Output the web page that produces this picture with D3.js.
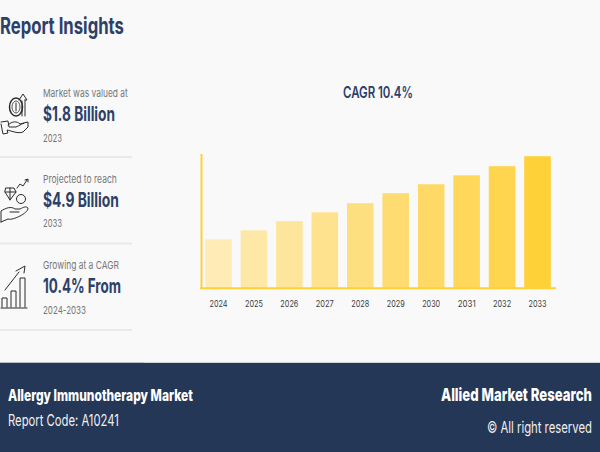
<!DOCTYPE html>
<html><head><meta charset="utf-8">
<script src="https://cdn.jsdelivr.net/npm/d3@7"></script>
<style>html,body{margin:0;padding:0;background:#f9f9f9}svg{display:block}text{font-family:Inter,"Noto Sans",sans-serif}</style>
</head><body><svg id="c" width="600" height="452"></svg>
<script>
const years=["2024","2025","2026","2027","2028","2029","2030","2031","2032","2033"];
const marketValues=[1.82,2.15,2.49,2.82,3.16,3.53,3.86,4.19,4.53,4.9];
const barColors=["#FEEBB6","#FEE8A8","#FEE59C","#FEE28E","#FEDF80","#FEDC72","#FFD966","#FFD75A","#FFD44E","#FFD139"];
const chartTitle="CAGR 10.4%";
const insightLines=[["Market was valued at","$1.8 Billion","2023"],["Projected to reach","$4.9 Billion","2033"],["Growing at a CAGR","10.4% From","2024-2033"]];

const navy="#243757",textNavy="#2c4068",svg=d3.select("#c");
svg.append("rect").attr("width",600).attr("height",452).attr("fill","#f9f9f9");
function txt(s,x,y,size,weight,fill,len){
  const t=svg.append("text").attr("font-size",size).attr("font-weight",weight).attr("fill",fill).text(s);
  const w=t.node().getComputedTextLength();
  return t.attr("transform",`translate(${x},${y}) scale(${len/w},1)`);
}
txt("Report Insights",0,34,23,700,textNavy,124);
const rows=[{y:[97,121,142],w:[85,72,19]},{y:[183,207,227],w:[74,76,19]},{y:[269,293,314],w:[76,78,43]}];
rows.forEach((r,i)=>{
  txt(insightLines[i][0],43,r.y[0],11,400,"#777",r.w[0]);
  txt(insightLines[i][1],43,r.y[1],20,700,textNavy,r.w[1]);
  txt(insightLines[i][2],43,r.y[2],11,400,"#777",r.w[2]);
});
[157,243.5,330].forEach(y=>svg.append("rect").attr("x",0).attr("y",y-1).attr("width",132).attr("height",2).attr("fill","#e9e9e9"));

// icons
const icon=d=>svg.append("path").attr("d",d).attr("fill","none").attr("stroke","#2b2b2b").attr("stroke-width",1).attr("stroke-linejoin","round").attr("stroke-linecap","round");
icon("M1 124 L3 134 L8 133 L7 130 C12 131 18 134 23 132 L28 127 L28 122 C24 122 19 126 16 127 L9 127 L8 121 L1 122 M8 125 C12 121 17 121 20 124 L24 123");
svg.append("ellipse").attr("cx",16).attr("cy",107).attr("rx",6.5).attr("ry",9).attr("fill","none").attr("stroke","#2b2b2b").attr("stroke-width",1.5);
svg.append("ellipse").attr("cx",16).attr("cy",107).attr("rx",4).attr("ry",6).attr("fill","none").attr("stroke","#2b2b2b").attr("stroke-width",.8);
icon("M22 101 L22 116 M25 116 L25 100 M19 100 L23 94 L27 100 L25 100 M16 103 L16 111");
icon("M1 222 L1 211 C6 208 11 206 15 209 L20 209 C24 207 26 206 28 208 C28 211 24 214 20 216 C16 218 11 220 8 219 L1 222 M10 212 L19 212");
icon("M6 188 L14 188 L16 192 L10 200 L5 192 Z M5 192 L16 192 M10 188 L10 200");
svg.append("circle").attr("cx",21).attr("cy",199).attr("r",4.5).attr("fill","none").attr("stroke","#2b2b2b");
icon("M17 188 L20 184 L23 186 L27 180 M25 180 L28 179 L28 182");
icon("M1 308 L27 308 M2 307 L2 298 L7 298 L7 307 M11 307 L11 291 L16 291 L16 307 M20 307 L20 278 L25 278 L25 307 M5 290 L19 272 M16 271 L25 266 L24 273");

// chart
const x=d3.scaleBand().domain(years).range([200.5,555.5]).paddingInner(.25).paddingOuter(.132);
const y=d3.scaleLinear().domain([0,5]).range([288.3,153.5]);
txt(chartTitle,343,98,16,600,textNavy,70);
svg.append("g").selectAll("rect").data(marketValues).join("rect")
  .attr("x",(d,i)=>x(years[i])).attr("width",x.bandwidth())
  .attr("y",d=>y(d)).attr("height",d=>y(0)-y(d)).attr("fill",(d,i)=>barColors[i]);
const ax=svg.append("g").attr("transform","translate(0,288.3)")
  .call(d3.axisBottom(x).tickSize(0).tickPadding(12));
ax.select(".domain").attr("stroke","#FFD139").attr("stroke-width",2).attr("d","M200 0H556");
ax.selectAll("text").attr("font-size",9.5).attr("fill","#3a3a3a").attr("font-family","Inter,sans-serif")
  .attr("textLength",18).attr("lengthAdjust","spacingAndGlyphs");
const ay=svg.append("g").attr("transform","translate(201,0)").call(d3.axisLeft(y).tickValues([]).tickSize(0));
ay.select(".domain").attr("stroke","#FFD139").attr("stroke-width",2);

// footer
svg.append("rect").attr("x",0).attr("y",363).attr("width",600).attr("height",89).attr("fill",navy);
svg.append("rect").attr("x",0).attr("y",362).attr("width",144).attr("height",1).attr("fill","#b9bec6");
svg.append("rect").attr("x",144).attr("y",362).attr("width",456).attr("height",1).attr("fill","#d0d3d8");
txt("Allergy Immunotherapy Market",8,401,16,800,"#fff",185);
txt("Report Code: A10241",8,426,16,400,"#f0f0f0",111);
txt("Allied Market Research",441,401,18,800,"#fff",151);
txt("© All right reserved",487,433,16,400,"#f0f0f0",105);
</script></body></html>
